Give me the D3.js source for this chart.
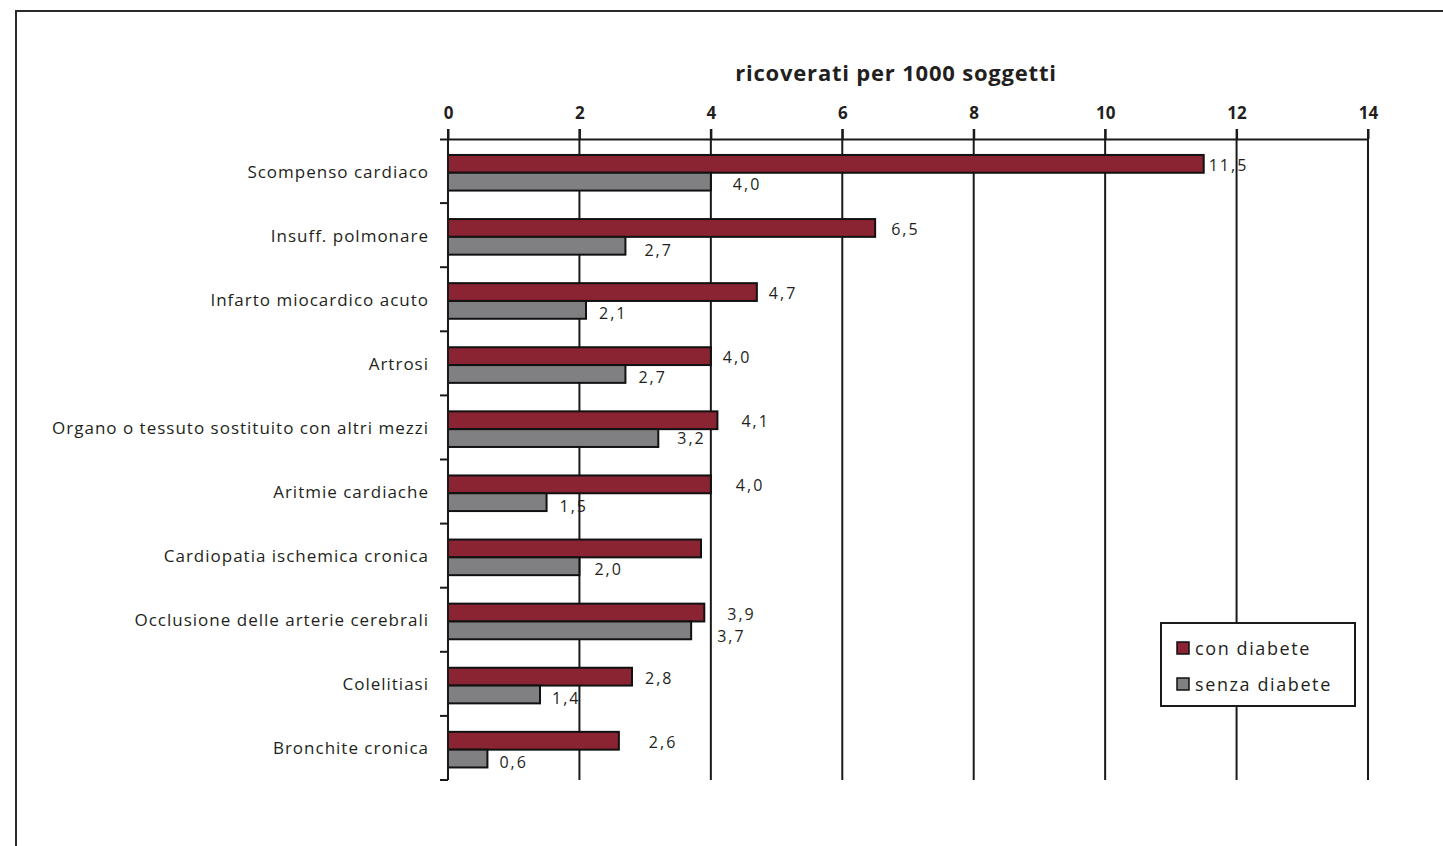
<!DOCTYPE html>
<html>
<head>
<meta charset="utf-8">
<script src="https://cdn.jsdelivr.net/npm/d3@7"></script>
<style>
  html, body { margin: 0; padding: 0; background: #fff; }
  svg { display: block; font-family: "Open Sans", "DejaVu Sans", sans-serif; }
</style>
</head>
<body>
<svg id="chart" width="1443" height="846"></svg>
<script>
// Hospital admissions per 1000 subjects, with and without diabetes
const categories = [
  "Scompenso cardiaco",
  "Insuff. polmonare",
  "Infarto miocardico acuto",
  "Artrosi",
  "Organo o tessuto sostituito con altri mezzi",
  "Aritmie cardiache",
  "Cardiopatia ischemica cronica",
  "Occlusione delle arterie cerebrali",
  "Colelitiasi",
  "Bronchite cronica"
];
const conDiabete   = [11.5, 6.5, 4.7, 4.0, 4.1, 4.0, 3.85, 3.9, 2.8, 2.6];
const senzaDiabete = [4.0, 2.7, 2.1, 2.7, 3.2, 1.5, 2.0, 3.7, 1.4, 0.6];
// value labels shown next to the bars (null = no label)
const conLabels   = ["11,5", "6,5", "4,7", "4,0", "4,1", "4,0", null, "3,9", "2,8", "2,6"];
const senzaLabels = ["4,0", "2,7", "2,1", "2,7", "3,2", "1,5", "2,0", "3,7", "1,4", "0,6"];
const seriesNames = ["con diabete", "senza diabete"];
const xTicks = [0, 2, 4, 6, 8, 10, 12, 14];
const title = "ricoverati per 1000 soggetti";

// label nudges (px) beyond the bar end
const conLabelDx   = [5, 16, 12, 12, 24, 25, 0, 23, 13, 30];
const senzaLabelDx = [22, 19, 13, 13, 19, 13, 15, 26, 12, 12];
const senzaLabelDy = [2, 4, 3, 3, 0, 4, 3, 6, 4, 3];

const colors = ["#8a2332", "#808083"];
const textColor = "#231f20";

const svg = d3.select("#chart");

// outer frame
svg.append("path")
  .attr("d", "M16,850 V11 H1450")
  .attr("fill", "none")
  .attr("stroke", "#2b2b2b")
  .attr("stroke-width", 2);

const plot = { left: 448, right: 1368, top: 139, bottom: 780 };

const x = d3.scaleLinear().domain([0, 14]).range([plot.left, plot.right]);
const y = d3.scaleBand().domain(categories).range([plot.top, plot.bottom]).padding(0);
const ySub = d3.scaleBand().domain(seriesNames).range([0, y.bandwidth()])
  .paddingInner(0).paddingOuter(0.8).align(0.56);

// vertical gridlines
svg.append("g")
  .selectAll("line")
  .data(xTicks.filter(d => d > 0))
  .join("line")
  .attr("x1", d => x(d)).attr("x2", d => x(d))
  .attr("y1", plot.top - 10).attr("y2", plot.bottom)
  .attr("stroke", "#1a1a1a")
  .attr("stroke-width", 2);

// top value axis
const xAxis = svg.append("g")
  .attr("transform", `translate(0,${plot.top})`)
  .call(d3.axisTop(x).tickValues(xTicks).tickSize(10).tickPadding(10));
xAxis.select(".domain").attr("stroke", "#1a1a1a").attr("stroke-width", 2)
  .attr("d", `M${plot.left - 8},0.5H${plot.right}`);
xAxis.selectAll(".tick line").attr("stroke", "#1a1a1a").attr("stroke-width", 2);
xAxis.selectAll(".tick text")
  .attr("fill", textColor)
  .style("font-size", "17px")
  .style("font-weight", "bold")
  .style("font-family", "'Open Sans', sans-serif");

// title
svg.append("text")
  .attr("x", 896).attr("y", 81)
  .attr("text-anchor", "middle")
  .attr("fill", textColor)
  .style("font-size", "22px")
  .style("font-weight", "bold")
  .style("letter-spacing", "0.8px")
  .text(title);

// bars
const groups = svg.append("g")
  .selectAll("g")
  .data(categories)
  .join("g")
  .attr("transform", d => `translate(0,${y(d)})`);

groups.each(function (cat, i) {
  const g = d3.select(this);
  const vals = [conDiabete[i], senzaDiabete[i]];
  g.selectAll("rect")
    .data(vals)
    .join("rect")
    .attr("x", x(0))
    .attr("y", (d, j) => ySub(seriesNames[j]))
    .attr("width", d => x(d) - x(0))
    .attr("height", ySub.bandwidth())
    .attr("fill", (d, j) => colors[j])
    .attr("stroke", "#111")
    .attr("stroke-width", 2);

  // value labels
  if (conLabels[i]) {
    g.append("text")
      .attr("x", x(conDiabete[i]) + conLabelDx[i])
      .attr("y", ySub(seriesNames[0]) + ySub.bandwidth() / 2 + 1)
      .attr("dominant-baseline", "central")
      .attr("fill", textColor)
      .style("font-size", "16px")
      .style("letter-spacing", "2px")
      .text(conLabels[i]);
  }
  if (senzaLabels[i]) {
    g.append("text")
      .attr("x", x(senzaDiabete[i]) + senzaLabelDx[i])
      .attr("y", ySub(seriesNames[1]) + ySub.bandwidth() / 2 + senzaLabelDy[i])
      .attr("dominant-baseline", "central")
      .attr("fill", textColor)
      .style("font-size", "16px")
      .style("letter-spacing", "2px")
      .text(senzaLabels[i]);
  }
});

// category axis on the left
const yAxisScale = d3.scaleLinear().domain([0, categories.length]).range([plot.top, plot.bottom]);
const yAxis = svg.append("g").attr("transform", `translate(${plot.left},0)`);
yAxis.append("line")
  .attr("x1", 0).attr("x2", 0)
  .attr("y1", plot.top - 10).attr("y2", plot.bottom)
  .attr("stroke", "#1a1a1a").attr("stroke-width", 2);
yAxis.selectAll("line.tick")
  .data(d3.range(1, categories.length + 1))
  .join("line")
  .attr("class", "tick")
  .attr("x1", -8).attr("x2", 0)
  .attr("y1", d => yAxisScale(d)).attr("y2", d => yAxisScale(d))
  .attr("stroke", "#1a1a1a").attr("stroke-width", 2);
yAxis.selectAll("text")
  .data(categories)
  .join("text")
  .attr("x", -19)
  .attr("y", d => y(d) + y.bandwidth() / 2)
  .attr("text-anchor", "end")
  .attr("dominant-baseline", "central")
  .attr("fill", textColor)
  .style("font-size", "17px")
  .style("letter-spacing", "1px")
  .text(d => d);

// legend
const legend = svg.append("g").attr("transform", "translate(1161,623)");
legend.append("rect")
  .attr("width", 194).attr("height", 83)
  .attr("fill", "#fff")
  .attr("stroke", "#1a1a1a").attr("stroke-width", 2);
const items = legend.selectAll("g.item")
  .data(seriesNames)
  .join("g")
  .attr("class", "item")
  .attr("transform", (d, i) => `translate(16,${25 + i * 36})`);
items.append("rect")
  .attr("x", 0).attr("y", -6)
  .attr("width", 12).attr("height", 12)
  .attr("fill", (d, i) => colors[i])
  .attr("stroke", "#111").attr("stroke-width", 1.5);
items.append("text")
  .attr("x", 18).attr("y", 0)
  .attr("dominant-baseline", "central")
  .attr("fill", textColor)
  .style("font-size", "18px")
  .style("letter-spacing", "1.6px")
  .text(d => d);
</script>
</body>
</html>
